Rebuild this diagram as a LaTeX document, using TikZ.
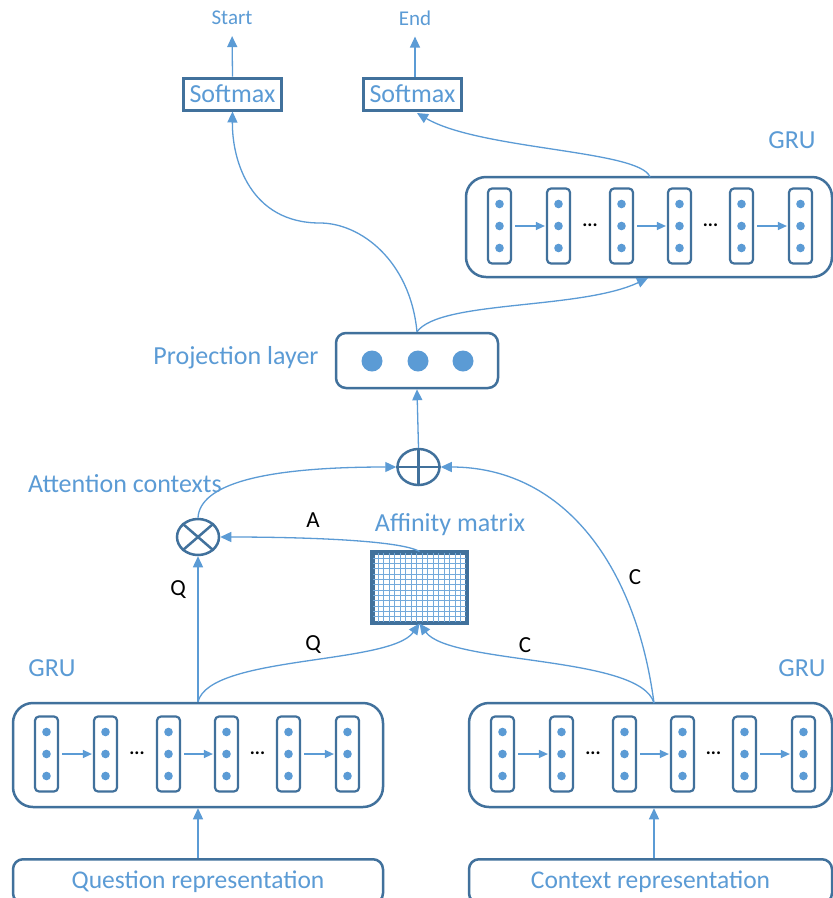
\documentclass[tikz,border=0pt]{standalone}
\usepackage{fontspec}
\setmainfont{Carlito}
\usetikzlibrary{arrows.meta,shapes.geometric,calc}
\definecolor{lb}{HTML}{5B9BD5}
\definecolor{db}{HTML}{41719C}
\tikzset{
 conn/.style={draw=lb, line width=1.3pt},
 arr/.style={conn, -{Triangle[length=11pt,width=10pt]}},
 cellarr/.style={conn, -{Triangle[length=9pt,width=8pt]}, shorten <=3pt, shorten >=1pt},
 box/.style={draw=db, line width=2.5pt, rounded corners=20pt, inner sep=0pt},
 cell/.style={draw=db, line width=2.2pt, rounded corners=4pt, minimum width=23pt, minimum height=75pt, inner sep=0pt},
 lab/.style={text=lb, font=\fontsize{26}{30}\selectfont, inner sep=0pt},
 small/.style={text=lb, font=\fontsize{21}{25}\selectfont, inner sep=0pt},
 blk/.style={text=black, font=\fontsize{23}{27}\selectfont, inner sep=0pt},
 ell/.style={ellipse, draw=db, line width=2.5pt, minimum width=42pt, minimum height=36pt, inner sep=0pt},
 smbox/.style={draw=db, line width=3pt, minimum width=98pt, minimum height=32pt, inner sep=0pt, text=lb, font=\fontsize{26}{30}\selectfont},
 ell3/.style={text=black, font=\bfseries\fontsize{19}{19}\selectfont, inner sep=0pt},
 gridl/.style={draw=lb!85, line width=1pt},
}
\newcommand{\grucells}[3]{%
 \foreach \o [count=\i] in {33.5,92.5,155.5,213.5,275.5,334.5}{
   \node[cell] (#1\i) at ({#2+\o},#3) {};
   \foreach \d in {-22,0,22} \fill[lb] ([yshift=\d pt]#1\i.center) circle (4.3pt);
 }
 \draw[cellarr] (#11.east) -- (#12.west);
 \draw[cellarr] (#13.east) -- (#14.west);
 \draw[cellarr] (#15.east) -- (#16.west);
 \node[ell3] (#1d1) at ($(#12)!0.5!(#13)+(0,-1)$) {...};
 \node[ell3] (#1d2) at ($(#14)!0.5!(#15)+(0,-1)$) {...};
}
\begin{document}
\begin{tikzpicture}[x=1pt,y=-1pt]
\clip (0,0) rectangle (833,898);
\fill[white] (0,0) rectangle (833,898);

% Softmax and outputs
\node[smbox] (smL) at (232.5,94) {Softmax};
\node[smbox] (smR) at (412.5,94) {Softmax};
\node[small] (start) at (232,18) {Start};
\node[small] (end) at (415,18) {End};
\draw[arr, shorten >=11pt] (smL.north) -- (start.south);
\draw[arr, shorten >=11pt] (smR.north -| end) -- (end.south);

% top GRU
\node[box, minimum width=366pt, minimum height=100pt] (gruT) at (649,227) {};
\grucells{T}{466}{226}
\node[lab] (gT) at (792,140) {GRU};

% projection layer
\node[box, rounded corners=10pt, minimum width=162pt, minimum height=55pt] (proj) at (417,360.5) {};
\fill[lb] (372,361) circle (10.5pt);
\fill[lb] (418,361) circle (10.5pt);
\fill[lb] (463,361) circle (10.5pt);
\node[lab] (projl) at (236,358) {Projection layer};

% combination
\node[ell] (oplus) at (418.5,467) {};
\draw[db, line width=2.5pt] (oplus.north) -- (oplus.south) (oplus.west) -- (oplus.east);
\node[ell] (otimes) at (198,537) {};
\draw[db, line width=2.5pt] (otimes.north east) -- (otimes.south west) (otimes.north west) -- (otimes.south east);
\node[lab] (attl) at (125,484) {Attention contexts};

% affinity matrix
\node[draw=db, line width=3pt, minimum width=93pt, minimum height=69pt, inner sep=0pt, fill=white] (aff) at (419.5,587.5) {};
\foreach \k in {1,...,16} \draw[gridl] ({373+\k*93/17},553) -- ++(0,69);
\foreach \k in {1,...,12} \draw[gridl] (373,{553+\k*69/13}) -- ++(93,0);
\draw[db, line width=3pt] (aff.north west) rectangle (aff.south east);
\node[lab] (affl) at (450,525) {Affinity matrix};

% bottom GRUs
\node[box, minimum width=370pt, minimum height=104pt] (gruL) at (198,755) {};
\grucells{L}{13}{754}
\node[box, minimum width=363pt, minimum height=104pt] (gruR) at (650.5,755) {};
\grucells{R}{469}{754}
\node[lab] (gL) at (52,668) {GRU};
\node[lab] (gR) at (802,668) {GRU};

% representations
\node[box, rounded corners=10pt, minimum width=370pt, minimum height=44pt, anchor=north, text=lb, font=\fontsize{25.5}{30}\selectfont] (qrep) at (198,858) {Question representation};
\node[box, rounded corners=10pt, minimum width=363pt, minimum height=44pt, anchor=north, text=lb, font=\fontsize{25.5}{30}\selectfont] (crep) at (650.5,858) {Context representation};

% connection points
\coordinate (ctop) at (654,703);
\coordinate (gTin) at (648,278);
\coordinate (gTout) at (650,177);
\coordinate (smRin) at (417,113);

% connectors
\draw[arr] (qrep.north) -- (gruL.south);
\draw[arr] (crep.north -| ctop) -- (gruR.south -| ctop);
\draw[arr] (gruL.north) -- (otimes.south);
\draw[arr] (gruL.north) .. controls (210,655) and (390,665) .. (aff.south);
\draw[arr] (ctop) .. controls (640,655) and (450,665) .. (aff.south);
\draw[arr] (ctop) .. controls (635,560) and (560,467) .. (oplus.east);
\draw[arr] (aff.north) .. controls (400,540) and (300,537) .. (otimes.east);
\draw[arr] (otimes.north) .. controls (200,485) and (260,467) .. (oplus.west);
\draw[arr] (oplus.north) -- (proj.south);
\draw[arr] (proj.north) .. controls (410,260) and (360,223) .. (320,223) .. controls (250,223) and (232,160) .. (smL.south);
\draw[arr] (proj.north) .. controls (440,300) and (580,310) .. (gTin);
\draw[arr] (gTout) .. controls (640,150) and (480,150) .. (smRin);

% letters
\node[blk] (lA) at (313,520) {A};
\node[blk] (lQ1) at (178,590) {Q};
\node[blk] (lQ2) at (313,645) {Q};
\node[blk] (lC1) at (525,645) {C};
\node[blk] (lC2) at (635,577) {C};
\end{tikzpicture}
\end{document}
